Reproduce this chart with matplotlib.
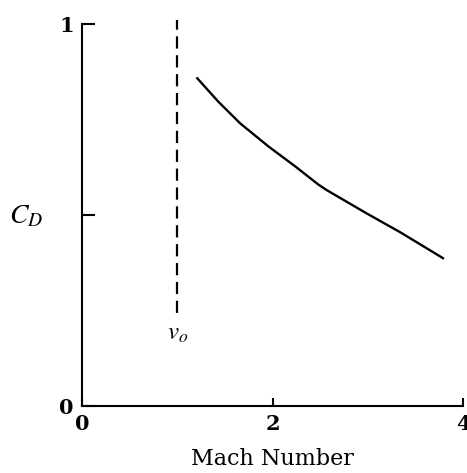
import matplotlib.pyplot as plt

plt.rcParams['mathtext.fontset'] = 'stix'

# Curve
mach = [1.21, 1.43, 1.66, 1.96, 2.24, 2.48, 2.57, 2.99, 3.34, 3.79]
cd = [0.858, 0.797, 0.740, 0.679, 0.627, 0.580, 0.565, 0.504, 0.455, 0.387]

# vertical dashed line at v_o
v0_x = 1.0
v0_y = [0.243, 1.01]

xticks = [0, 2, 4]
yticks = [0, 0.5, 1]
ytick_labels = ['0', '', '1']

fig = plt.figure(figsize=(4.67, 4.73), dpi=100)
ax = fig.add_axes([82/467, 1-406/473, (463-82)/467, (406-24)/473])

ax.plot(mach, cd, color='black', lw=1.7)
ax.plot([v0_x, v0_x], v0_y, color='black', lw=1.6, ls=(0, (5.5, 3)), clip_on=False)
ax.text(v0_x, 0.19, r'$v_o$', ha='center', va='center', fontsize=18)

ax.set_xlim(0, 4)
ax.set_ylim(0, 1)
ax.spines['top'].set_visible(False)
ax.spines['right'].set_visible(False)
ax.spines['left'].set_linewidth(1.5)
ax.spines['bottom'].set_linewidth(1.5)

ax.set_xticks(xticks)
ax.set_xticklabels([str(t) for t in xticks], family='DejaVu Serif', fontsize=15, fontweight='bold')
ax.set_yticks(yticks)
ax.set_yticklabels(ytick_labels, family='DejaVu Serif', fontsize=15, fontweight='bold')
ax.tick_params(direction='in', length=9, width=1.5, pad=6)
ax.tick_params(axis='x', length=6)

ax.set_xlabel('Mach Number', family='DejaVu Serif', fontsize=16, labelpad=10)
ax.set_ylabel(r'$C_D$', fontsize=20, rotation=0, labelpad=24, va='center')

fig.savefig('out.png', dpi=100)
